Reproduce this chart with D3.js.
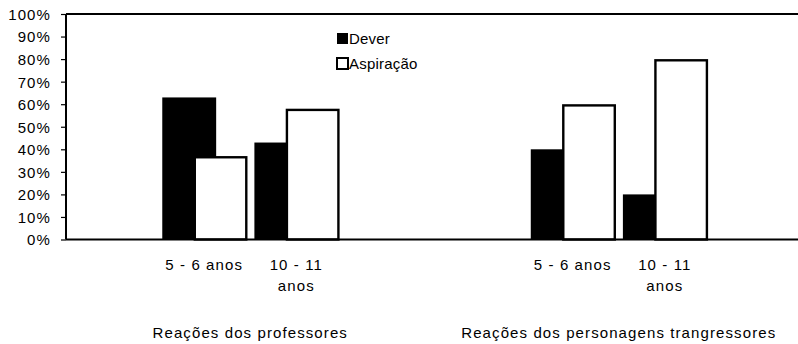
<!DOCTYPE html>
<html>
<head>
<meta charset="utf-8">
<script src="https://cdn.jsdelivr.net/npm/d3@7"></script>
<style>
  html, body { margin: 0; padding: 0; background: #fff; }
  svg { display: block; }
  text { font-family: "Liberation Sans", Arial, sans-serif; fill: #000; }
</style>
</head>
<body>
<svg id="chart" width="798" height="344"></svg>
<script>
// ---- data ----
const groups = ["Reações dos professores", "Reações dos personagens trangressores"];
const ages = ["5 - 6 anos", "10 - 11 anos"];
const series = ["Dever", "Aspiração"];
const dever = [63, 43, 40, 20];       // prof 5-6, prof 10-11, pers 5-6, pers 10-11
const aspiracao = [37, 58, 60, 80];
const yTicks = [0, 10, 20, 30, 40, 50, 60, 70, 80, 90, 100];

(function () {
// ---- layout ----
const svg = d3.select("#chart");
const mLeft = 66, mRight = 803, mTop = 14, mBottom = 239.5;
const nSlots = 8;
const x = d3.scaleBand().domain(d3.range(nSlots)).range([mLeft, mRight]).padding(0);
const y = d3.scaleLinear().domain([0, 100]).range([mBottom, mTop]);
const bw = x.bandwidth();

// slot of each category: group g, age a -> 1 + a + 4g
const cats = [];
groups.forEach((g, gi) => ages.forEach((a, ai) => cats.push({ group: gi, age: a, slot: 1 + ai + 4 * gi })));

const FS = "15px", LS = "1.1px";

// frame: top line
svg.append("line").attr("x1", mLeft).attr("x2", 798).attr("y1", mTop).attr("y2", mTop)
  .attr("stroke", "#000").attr("stroke-width", 2);

// bars
const gBars = svg.append("g");
cats.forEach((c, i) => {
  const x0 = x(c.slot);
  gBars.append("rect")
    .attr("x", x0 + bw * 0.045).attr("width", bw * 0.585)
    .attr("y", y(dever[i])).attr("height", y(0) - y(dever[i]))
    .attr("fill", "#000");
  const wx = x0 + bw * 0.385, ww = bw * 0.585;
  gBars.append("rect")
    .attr("x", wx + 1.2).attr("width", ww - 2.4)
    .attr("y", y(aspiracao[i]) + 1.2).attr("height", y(0) - y(aspiracao[i]) - 1.2)
    .attr("fill", "#fff").attr("stroke", "#000").attr("stroke-width", 2.4);
});

// baseline
svg.append("line").attr("x1", mLeft).attr("x2", 798).attr("y1", y(0)).attr("y2", y(0))
  .attr("stroke", "#000").attr("stroke-width", 2);

// y axis
const yAxis = d3.axisLeft(y).tickValues(yTicks).tickFormat(d => d + "%").tickSize(5).tickPadding(10);
const gy = svg.append("g").attr("transform", `translate(${mLeft},0)`).call(yAxis);
gy.select(".domain").attr("stroke", "#000").attr("stroke-width", 2).attr("d", `M0,${mTop}V${mBottom}`);
gy.selectAll(".tick line").attr("stroke", "#000").attr("stroke-width", 1.2);
gy.selectAll(".tick text")
  .style("font-family", '"Liberation Sans", Arial, sans-serif')
  .style("font-size", FS).style("letter-spacing", LS).attr("fill", "#000")
  .attr("dy", "0.36em");

// category labels (wrapped)
const gx = svg.append("g");
cats.forEach(c => {
  const cx = x(c.slot) + bw / 2;
  const lines = c.age === "10 - 11 anos" ? ["10 - 11", "anos"] : [c.age];
  lines.forEach((t, li) => {
    gx.append("text").attr("x", cx).attr("y", 270 + li * 20.5)
      .attr("text-anchor", "middle").style("font-size", FS).style("letter-spacing", LS)
      .text(t);
  });
});

// group labels
groups.forEach((g, gi) => {
  const cx = x(1 + 4 * gi + 1);
  svg.append("text").attr("x", cx).attr("y", 337.5)
    .attr("text-anchor", "middle").style("font-size", FS).style("letter-spacing", LS)
    .text(g);
});

// legend
const leg = svg.append("g");
series.forEach((s, si) => {
  const ly = 33 + si * 25;
  leg.append("rect").attr("x", 337).attr("y", ly).attr("width", 11).attr("height", 11)
    .attr("fill", si === 0 ? "#000" : "#fff").attr("stroke", "#000")
    .attr("stroke-width", si === 0 ? 0 : 2);
  leg.append("text").attr("x", 349).attr("y", ly + 10.5)
    .style("font-size", FS).style("letter-spacing", "0.2px").text(s);
});
})();
</script>
</body>
</html>
